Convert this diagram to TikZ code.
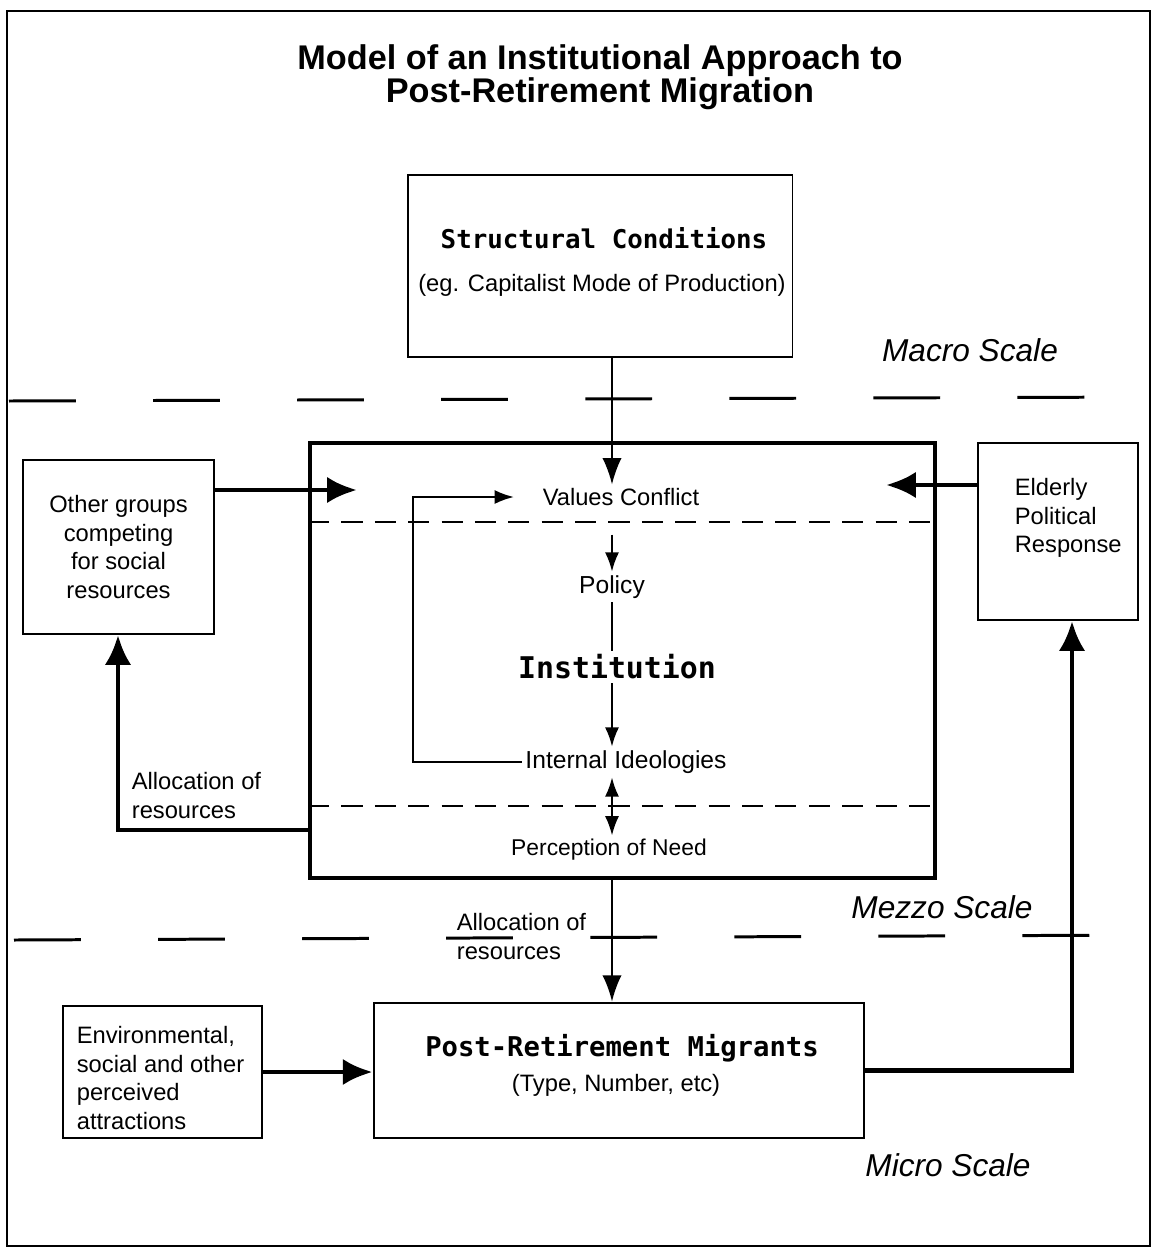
\documentclass[tikz,border=0pt]{standalone}
\usepackage{fontspec}
\setmainfont{Liberation Sans}
\newfontfamily\headfont{DejaVu Sans Mono}
\usetikzlibrary{arrows.meta}

\begin{document}
\begin{tikzpicture}[x=0.02cm, y=-0.02cm,
        box/.style={draw, line width=1.1pt, inner sep=0pt},
        txt/.style={font=\fontsize{13.5}{16.2}\selectfont, inner sep=2pt},
        head/.style={font=\headfont\bfseries\fontsize{#1}{18}\selectfont, inner sep=2pt},
        scalename/.style={font=\itshape\fontsize{18}{20}\selectfont},
        arr/.style={line width=1.2pt, -{Latex[length=11pt,width=8pt]}},
        bigarr/.style={line width=1.2pt, -{Latex[length=15pt,width=11pt]}},
        thickarr/.style={line width=2.8pt, -{Latex[length=17pt,width=15pt]}},
        scaleline/.style={line width=1.7pt, dash pattern=on 38pt off 44pt},
        splitline/.style={line width=1.2pt, dash pattern=on 12pt off 7pt}]
    \useasboundingbox (0,0) rectangle (1152,1248);
    \draw[line width=1.1pt] (7,11) rectangle (1150,1246);
    \coordinate (axis) at (612,0);

    % title and scales
    \node[font=\bfseries\fontsize{19.5}{19}\selectfont, align=center] (title) at (600,77)
        {Model of an Institutional Approach to\\Post-Retirement Migration};
    \node[scalename] (macro) at (970,350) {Macro Scale};
    \node[scalename] (mezzo) at (942,907) {Mezzo Scale};
    \node[scalename] (micro) at (948,1165) {Micro Scale};
    \draw[scaleline] (9,401) -- (1150,397);
    \draw[scaleline] (14,940) -- (1150,935);

    % boxes
    \node[box, minimum width=7.7cm, minimum height=3.64cm] (struct) at (600,266) {};
    \node[head=14.7] (structtitle) at (604,238) {Structural Conditions};
    \node[txt] (structnote) at (602,285) {(eg. Capitalist Mode of Production)};

    \node[box, line width=2.3pt, minimum width=12.5cm, minimum height=8.7cm] (inst) at (622.5,660.5) {};
    \draw[splitline] (inst.west |- 0,522) -- (inst.east |- 0,522);
    \draw[splitline] (inst.west |- 0,806) -- (inst.east |- 0,806);

    \node[box, minimum width=3.82cm, minimum height=3.48cm, align=center,
        font=\fontsize{13.5}{16.2}\selectfont] (other) at (118.5,547)
        {Other groups\\competing\\for social\\resources};
    \node[box, minimum width=3.2cm, minimum height=3.54cm] (elderly) at (1058,531.5) {};
    \node[txt, anchor=west, align=left] (elderlytxt) at (1011,518) {Elderly\\Political\\Response};
    \node[box, line width=1.6pt, minimum width=3.98cm, minimum height=2.64cm] (env) at (162.5,1072) {};
    \node[txt, anchor=west, align=left] (envtxt) at (73,1078)
        {Environmental,\\social and other\\perceived\\attractions};
    \node[box, line width=1.6pt, minimum width=9.8cm, minimum height=2.7cm] (prm) at (619,1070.5) {};
    \node[head=15.5] (prmtitle) at (622,1048) {Post-Retirement Migrants};
    \node[txt] (prmnote) at (616,1085) {(Type, Number, etc)};

    % inside the institution
    \node[txt] (vc) at (621,497) {Values Conflict};
    \node[txt, font=\fontsize{14}{16}\selectfont] (policy) at (612,587) {Policy};
    \node[head=17] (insttxt) at (617,667) {Institution};
    \node[txt, font=\fontsize{14}{16}\selectfont] (ideol) at (626,762) {Internal Ideologies};
    \node[txt, font=\fontsize{13}{16}\selectfont] (need) at (609,850) {Perception of Need};

    \node[txt, anchor=west, align=left] (allocl) at (128,795.5) {Allocation of\\resources};
    \node[txt, anchor=west, align=left] (allocm) at (453,936.5) {Allocation of\\resources};

    \coordinate (loopx) at (413,0);
    \coordinate (othin) at (357,490);
    \coordinate (elin) at (886,485);
    \coordinate (allocx) at (118,830);
    \coordinate (polx) at (1072,0);

    % connectors
    \draw[bigarr] (struct.south -| axis) -- (vc.north -| axis);
    \draw[arr, shorten <=0.5cm] (vc.south -| axis) -- (policy.north -| axis);
    \draw[line width=1.2pt] (policy.south -| axis) -- (insttxt.north -| axis);
    \draw[arr] (insttxt.south -| axis) -- (ideol.north -| axis);
    \draw[line width=1.2pt, {Latex[length=11pt,width=8pt]}-{Latex[length=11pt,width=8pt]}]
        (ideol.south -| axis) -- (need.north -| axis);
    \draw[arr, shorten >=0.5cm] (ideol.west) -- (ideol.west -| loopx)
        -- (vc.west -| loopx) -- (vc.west);
    \draw[thickarr] (other.east |- othin) -- (othin);
    \draw[thickarr] (elderly.west |- elin) -- (elin);
    \draw[thickarr] (inst.west |- allocx) -- (allocx) -- (other.south -| allocx);
    \draw[bigarr] (inst.south -| axis) -- (prm.north -| axis);
    \draw[thickarr] (env.east) -- (env.east -| prm.west);
    \draw[thickarr] (prm.east) -- (prm.east -| polx) -- (elderly.south -| polx);
\end{tikzpicture}
\end{document}
